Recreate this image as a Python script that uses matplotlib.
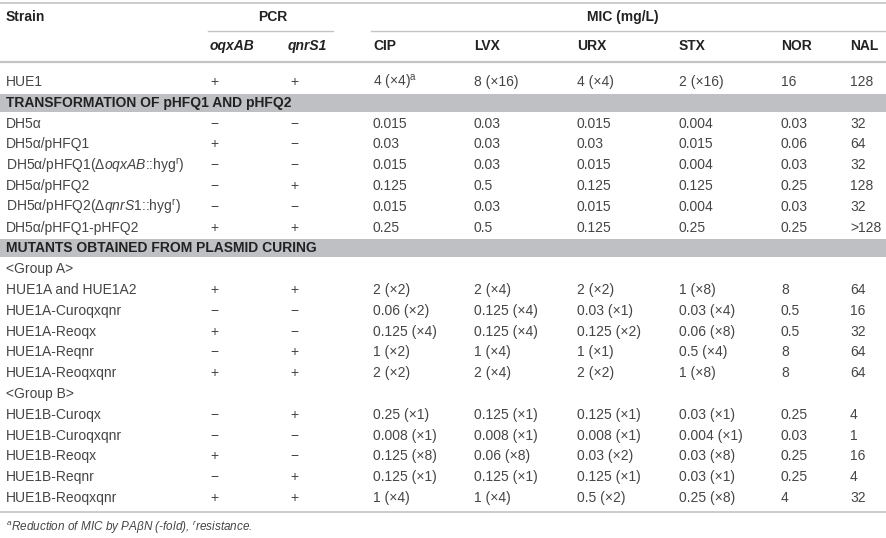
import matplotlib
matplotlib.use("Agg")
import matplotlib.pyplot as plt

plt.rcParams['font.family'] = ['Liberation Sans', 'DejaVu Sans']
plt.rcParams['mathtext.fontset'] = 'custom'
plt.rcParams['mathtext.rm'] = 'Liberation Sans'
plt.rcParams['mathtext.it'] = 'Liberation Sans:italic'
plt.rcParams['mathtext.bf'] = 'Liberation Sans:bold'

# table content
columns = ["CIP", "LVX", "URX", "STX", "NOR", "NAL"]
strain = ["HUE1", "DH5α", "DH5α/pHFQ1",
          r"DH5α/pHFQ1(Δ$\mathit{oqxAB}$::hyg$^{\mathrm{r}}$)",
          "DH5α/pHFQ2",
          r"DH5α/pHFQ2(Δ$\mathit{qnrS1}$::hyg$^{\mathrm{r}}$)",
          "DH5α/pHFQ1-pHFQ2",
          "<Group A>", "HUE1A and HUE1A2", "HUE1A-Curoqxqnr", "HUE1A-Reoqx",
          "HUE1A-Reqnr", "HUE1A-Reoqxqnr",
          "<Group B>", "HUE1B-Curoqx", "HUE1B-Curoqxqnr", "HUE1B-Reoqx",
          "HUE1B-Reqnr", "HUE1B-Reoqxqnr"]
oqxab = ["+", "−", "+", "−", "−", "−", "+", "",
         "+", "−", "+", "−", "+", "", "−", "−", "+", "−", "+"]
qnrs1 = ["+", "−", "−", "−", "+", "−", "+", "",
         "+", "−", "−", "+", "+", "", "+", "−", "−", "+", "+"]
cip = [r"4 (×4)$^{\mathrm{a}}$", "0.015", "0.03", "0.015", "0.125", "0.015", "0.25", "",
       "2 (×2)", "0.06 (×2)", "0.125 (×4)", "1 (×2)", "2 (×2)", "",
       "0.25 (×1)", "0.008 (×1)", "0.125 (×8)", "0.125 (×1)", "1 (×4)"]
lvx = ["8 (×16)", "0.03", "0.03", "0.03", "0.5", "0.03", "0.5", "",
       "2 (×4)", "0.125 (×4)", "0.125 (×4)", "1 (×4)", "2 (×4)", "",
       "0.125 (×1)", "0.008 (×1)", "0.06 (×8)", "0.125 (×1)", "1 (×4)"]
urx = ["4 (×4)", "0.015", "0.03", "0.015", "0.125", "0.015", "0.125", "",
       "2 (×2)", "0.03 (×1)", "0.125 (×2)", "1 (×1)", "2 (×2)", "",
       "0.125 (×1)", "0.008 (×1)", "0.03 (×2)", "0.125 (×1)", "0.5 (×2)"]
stx = ["2 (×16)", "0.004", "0.015", "0.004", "0.125", "0.004", "0.25", "",
       "1 (×8)", "0.03 (×4)", "0.06 (×8)", "0.5 (×4)", "1 (×8)", "",
       "0.03 (×1)", "0.004 (×1)", "0.03 (×8)", "0.03 (×1)", "0.25 (×8)"]
nor = ["16", "0.03", "0.06", "0.03", "0.25", "0.03", "0.25", "",
       "8", "0.5", "0.5", "8", "8", "", "0.25", "0.03", "0.25", "0.25", "4"]
nal = ["128", "32", "64", "32", "128", "32", ">128", "",
       "64", "16", "32", "64", "64", "", "4", "1", "16", "4", "32"]
# section bands: inserted before the data row with this index
sections = [(1, "TRANSFORMATION OF pHFQ1 AND pHFQ2"),
            (7, "MUTANTS OBTAINED FROM PLASMID CURING")]
footnote = r"$^{\mathit{a}}$Reduction of MIC by PAβN (-fold), $^{\mathit{r}}$resistance."

W, H = 887, 538
fig = plt.figure(figsize=(W / 100, H / 100), dpi=100)
ax = fig.add_axes([0, 0, 1, 1])
ax.set_xlim(0, W)
ax.set_ylim(H, 0)
ax.axis('off')

fs = 10
body_c = '#454545'
head_c = '#222222'
line_c = '#c4c4c4'
band_c = '#bfc0c4'

col_x = [6, 210, 290, 373, 474, 577, 679, 781, 850]
row0, step = 82, 20.8

# header
ax.plot([0, W], [3, 3], color=line_c, lw=1.2)
ax.text(col_x[0], 17, "Strain", fontsize=fs, fontweight='bold', color=head_c, va='center')
ax.text(273, 17, "PCR", fontsize=fs, fontweight='bold', color=head_c, va='center', ha='center')
ax.text(623, 17, "MIC (mg/L)", fontsize=fs, fontweight='bold', color=head_c, va='center', ha='center')
ax.plot([208, 333], [31, 31], color=line_c, lw=1.0)
ax.plot([371, W], [31, 31], color=line_c, lw=1.0)
ax.text(col_x[1], 46, "oqxAB", fontsize=fs, fontweight='bold', style='italic', color=head_c, va='center')
ax.text(col_x[2] - 2, 46, "qnrS1", fontsize=fs, fontweight='bold', style='italic', color=head_c, va='center')
for x, c in zip(col_x[3:], columns):
    ax.text(x, 46, c, fontsize=fs, fontweight='bold', color=head_c, va='center')
ax.plot([0, W], [62, 62], color=line_c, lw=1.6)

# body
sec_at = dict(sections)
disp = 0
table = list(zip(strain, oqxab, qnrs1, cip, lvx, urx, stx, nor, nal))
for i, row in enumerate(table):
    if i in sec_at:
        y = row0 + disp * step
        ax.fill_between([0, W], y - 9, y + 9, color=band_c, lw=0)
        ax.text(col_x[0], y, sec_at[i], fontsize=fs, fontweight='bold', color=head_c, va='center')
        disp += 1
    y = row0 + disp * step
    for x, val in zip(col_x, row):
        ax.text(x, y, val, fontsize=fs, color=body_c, va='center')
    disp += 1

y_end = row0 + (disp - 1) * step + 14
ax.plot([0, W], [y_end, y_end], color=line_c, lw=1.2)
ax.text(col_x[0], y_end + 15, footnote, fontsize=8.5, style='italic', color=body_c, va='center')

fig.savefig("out.png", dpi=100, facecolor='white')
